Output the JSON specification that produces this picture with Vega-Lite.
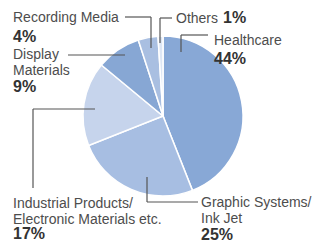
{
  "$schema": "https://vega.github.io/schema/vega-lite/v6.json",
  "width": 315,
  "height": 243,
  "autosize": {"type": "fit", "contains": "padding"},
  "padding": 0,
  "background": "white",
  "config": {"view": {"stroke": null}},
  "datasets": {
    "pie": [
      {"segment": "Healthcare", "share": 44, "ord": 1},
      {"segment": "Graphic Systems/Ink Jet", "share": 25, "ord": 2},
      {"segment": "Industrial Products/Electronic Materials etc.", "share": 17, "ord": 3},
      {"segment": "Display Materials", "share": 9, "ord": 4},
      {"segment": "Recording Media", "share": 4, "ord": 5},
      {"segment": "Others", "share": 1, "ord": 6}
    ],
    "leaders": [
      {"x": -0.475, "y": 1.2375, "x2": -0.15, "y2": 1.2375},
      {"x": -0.15, "y": 1.2375, "x2": -0.15, "y2": 0.85},
      {"x": -0.0375, "y": 1.225, "x2": 0.1125, "y2": 1.225},
      {"x": -0.0375, "y": 1.225, "x2": -0.0375, "y2": 0.9125},
      {"x": 0.225, "y": 1.0125, "x2": 0.5625, "y2": 1.0125},
      {"x": 0.225, "y": 1.0125, "x2": 0.225, "y2": 0.8},
      {"x": -1.1875, "y": 0.7625, "x2": -0.475, "y2": 0.7625},
      {"x": -1.625, "y": 0.0875, "x2": -0.85, "y2": 0.0875},
      {"x": -1.625, "y": 0.0875, "x2": -1.625, "y2": -0.9},
      {"x": -0.2, "y": -0.7625, "x2": -0.2, "y2": -1.075},
      {"x": -0.2, "y": -1.075, "x2": 0.4375, "y2": -1.075}
    ],
    "names": [
      {"label": "Recording Media", "x": -1.875, "y": 1.175},
      {"label": "Display\nMaterials", "x": -1.875, "y": 0.7125},
      {"label": "Others", "x": 0.1625, "y": 1.1625},
      {"label": "Healthcare", "x": 0.6375, "y": 0.8875},
      {"label": "Industrial Products/\nElectronic Materials etc.", "x": -1.875, "y": -1.15},
      {"label": "Graphic Systems/\nInk Jet", "x": 0.475, "y": -1.1375}
    ],
    "pcts": [
      {"label": "4%", "x": -1.875, "y": 0.925},
      {"label": "9%", "x": -1.875, "y": 0.3},
      {"label": "1%", "x": 0.75, "y": 1.1625},
      {"label": "44%", "x": 0.6375, "y": 0.65},
      {"label": "17%", "x": -1.875, "y": -1.5375},
      {"label": "25%", "x": 0.475, "y": -1.55}
    ]
  },
  "layer": [
    {
      "data": {"name": "pie"},
      "mark": {"type": "arc", "outerRadius": 80, "stroke": "white", "strokeWidth": 1.5},
      "encoding": {
        "x": {"datum": 0, "type": "quantitative", "scale": {"domain": [-2.0375, 1.9], "nice": false, "zero": false}, "axis": null},
        "y": {"datum": 0, "type": "quantitative", "scale": {"domain": [-1.5875, 1.45], "nice": false, "zero": false}, "axis": null},
        "theta": {"field": "share", "type": "quantitative", "stack": true},
        "order": {"field": "ord", "type": "quantitative"},
        "color": {
          "field": "segment",
          "type": "nominal",
          "legend": null,
          "scale": {
            "domain": ["Healthcare", "Graphic Systems/Ink Jet", "Industrial Products/Electronic Materials etc.", "Display Materials", "Recording Media", "Others"],
            "range": ["#88a8d6", "#a7bee2", "#c6d4ec", "#87a7d4", "#a9bfe1", "#dde6f4"]
          }
        }
      }
    },
    {
      "data": {"name": "leaders"},
      "mark": {"type": "rule", "color": "#555555", "strokeWidth": 1.2},
      "encoding": {
        "x": {"field": "x", "type": "quantitative", "axis": null},
        "y": {"field": "y", "type": "quantitative", "axis": null},
        "x2": {"field": "x2"},
        "y2": {"field": "y2"}
      }
    },
    {
      "data": {"name": "names"},
      "mark": {"type": "text", "align": "left", "baseline": "alphabetic", "font": "Liberation Sans", "fontSize": 14, "color": "#4d4d4d", "lineBreak": "\n", "lineHeight": 15.5},
      "encoding": {
        "x": {"field": "x", "type": "quantitative", "axis": null},
        "y": {"field": "y", "type": "quantitative", "axis": null},
        "text": {"field": "label"}
      }
    },
    {
      "data": {"name": "pcts"},
      "mark": {"type": "text", "align": "left", "baseline": "alphabetic", "font": "Liberation Sans", "fontSize": 16, "fontWeight": "bold", "color": "#333333"},
      "encoding": {
        "x": {"field": "x", "type": "quantitative", "axis": null},
        "y": {"field": "y", "type": "quantitative", "axis": null},
        "text": {"field": "label"}
      }
    }
  ]
}
